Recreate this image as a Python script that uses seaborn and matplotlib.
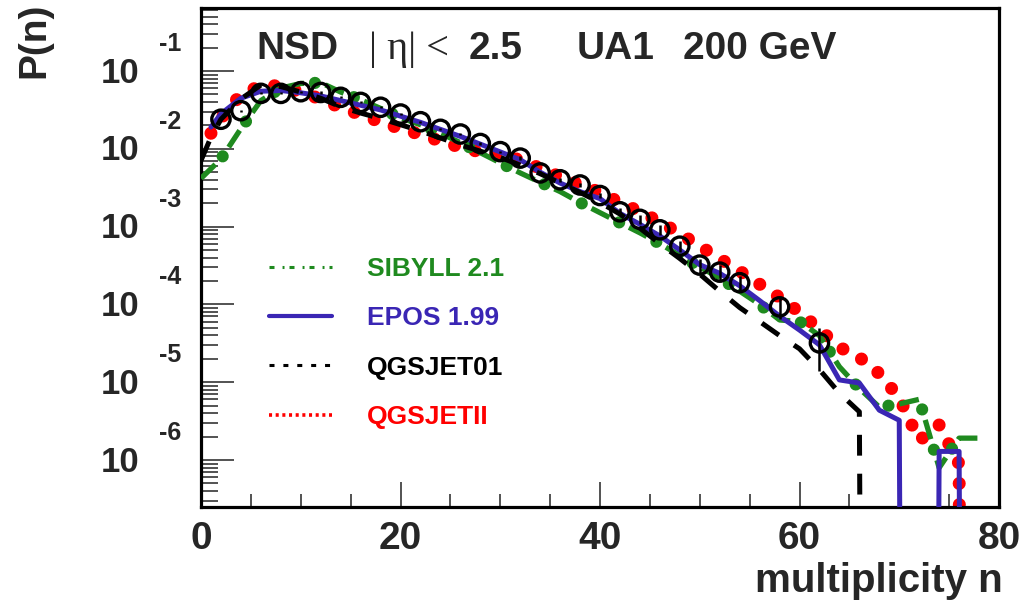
import numpy as np
import matplotlib
matplotlib.use("Agg")
import matplotlib.pyplot as plt
import matplotlib.transforms as mtrans
from matplotlib.lines import Line2D
from matplotlib.ticker import MultipleLocator, LogLocator, NullFormatter
import seaborn as sns

# ---------------- data ----------------
# UA1 NSD data, |eta| < 2.5, 200 GeV
ua1_n = [2, 4, 6, 8, 10, 12, 14, 16, 18, 20, 22, 24, 26, 28, 30, 32, 34, 36, 38,
         40, 42, 44, 46, 48, 50, 52, 54, 58, 62]
ua1_p = [2.40e-2, 3.09e-2, 5.16e-2, 5.16e-2, 5.42e-2, 5.30e-2, 4.59e-2, 3.95e-2,
         3.42e-2, 2.80e-2, 2.23e-2, 1.78e-2, 1.55e-2, 1.17e-2, 9.2e-3, 7.6e-3,
         4.9e-3, 4.0e-3, 3.43e-3, 2.51e-3, 1.55e-3, 1.24e-3, 9.1e-4, 5.6e-4,
         3.2e-4, 2.6e-4, 1.9e-4, 9.3e-5, 3.2e-5]
ua1_err = [7e-4, 9e-4, 1.5e-3, 1.5e-3, 1.6e-3, 1.6e-3, 1.4e-3, 1.2e-3, 1.0e-3,
           8e-4, 7e-4, 5e-4, 5e-4, 4e-4, 3e-4, 4e-4, 2.5e-4, 2e-4, 2e-4, 2e-4,
           1.6e-4, 1.5e-4, 1.3e-4, 9.5e-5, 6.4e-5, 5.7e-5, 4.2e-5, 2.8e-5, 1.8e-5]

# SIBYLL 2.1
sib_n = [0, 2, 4, 6, 8, 10, 12, 14, 16, 18, 20, 22, 24, 26, 28, 30, 32, 34, 36, 38,
         40, 42, 44, 46, 48, 50, 52, 54, 56, 58, 60, 62, 64, 66, 68, 70, 72, 74, 76, 78]
sib_p = [4.17e-3, 7.41e-3, 1.82e-2, 4.17e-2, 6.03e-2, 6.92e-2, 7.08e-2, 5.37e-2,
         4.27e-2, 3.31e-2, 2.51e-2, 2.04e-2, 1.585e-2, 1.20e-2, 8.91e-3, 6.61e-3,
         4.90e-3, 3.72e-3, 2.82e-3, 2.04e-3, 1.51e-3, 1.12e-3, 8.32e-4, 6.03e-4,
         4.27e-4, 3.02e-4, 2.19e-4, 1.48e-4, 1.00e-4, 6.31e-5, 6.03e-5, 3.98e-5,
         1.58e-5, 8.32e-6, 4.79e-6, 5.25e-6, 6.03e-6, 7.94e-7, 1.91e-6, 1.91e-6]

# EPOS 1.99
epos_n = [1, 2, 4, 6, 8, 10, 12, 14, 16, 18, 20, 22, 24, 26, 28, 30, 32, 34, 36, 38,
          40, 42, 44, 46, 48, 50, 52, 54, 56, 58, 60, 62, 64, 66, 68, 70, 71, 73, 74,
          76, 77]
epos_p = [1.905e-2, 2.818e-2, 4.467e-2, 5.495e-2, 5.623e-2, 5.248e-2, 4.786e-2,
          4.169e-2, 3.631e-2, 3.162e-2, 2.630e-2, 2.188e-2, 1.778e-2, 1.445e-2,
          1.148e-2, 9.12e-3, 7.24e-3, 5.01e-3, 3.63e-3, 2.82e-3, 2.29e-3, 1.48e-3,
          1.07e-3, 7.59e-4, 5.01e-4, 3.24e-4, 2.51e-4, 1.74e-4, 1.12e-4, 7.08e-5,
          4.68e-5, 3.02e-5, 1.07e-5, 9.77e-6, 4.37e-6, 3.24e-6, 0.0, 0.0, 1.29e-6,
          1.29e-6, 0.0]

# QGSJET01
qgs1_n = [0, 1, 2, 4, 6, 8, 10, 12, 14, 16, 18, 20, 22, 24, 26, 28, 30, 32, 34, 36,
          38, 40, 42, 44, 46, 48, 50, 52, 54, 56, 58, 60, 62, 64, 66, 67]
qgs1_p = [7.08e-3, 1.413e-2, 2.399e-2, 4.365e-2, 6.607e-2, 6.310e-2, 5.370e-2,
          4.467e-2, 3.467e-2, 2.884e-2, 2.455e-2, 2.042e-2, 1.698e-2, 1.380e-2,
          1.122e-2, 9.33e-3, 7.76e-3, 6.17e-3, 4.79e-3, 3.63e-3, 2.75e-3, 2.04e-3,
          1.45e-3, 9.55e-4, 6.03e-4, 3.89e-4, 2.45e-4, 1.48e-4, 9.12e-5, 6.03e-5,
          3.98e-5, 2.69e-5, 1.45e-5, 7.24e-6, 4.17e-6, 0.0]

# QGSJETII
qgs2_n = [1, 2, 4, 6, 8, 10, 12, 14, 16, 18, 20, 22, 24, 26, 28, 30, 32, 34, 36, 38,
          40, 42, 44, 46, 48, 50, 52, 54, 56, 58, 60, 62, 64, 66, 68, 70, 72, 74, 76, 77]
qgs2_p = [1.585e-2, 2.455e-2, 5.012e-2, 6.457e-2, 6.457e-2, 5.370e-2, 4.365e-2,
          3.388e-2, 2.754e-2, 2.213e-2, 1.820e-2, 1.531e-2, 1.259e-2, 1.047e-2,
          9.12e-3, 8.13e-3, 7.24e-3, 5.62e-3, 4.37e-3, 3.47e-3, 2.75e-3, 2.04e-3,
          1.55e-3, 1.15e-3, 8.13e-4, 5.62e-4, 3.89e-4, 2.69e-4, 1.82e-4, 1.23e-4,
          7.94e-5, 4.79e-5, 2.82e-5, 2.09e-5, 1.29e-5, 6.31e-6, 1.78e-6, 2.82e-6,
          8.91e-7, 0.0]

x_ticks = [0, 20, 40, 60, 80]
y_decades = [1e-1, 1e-2, 1e-3, 1e-4, 1e-5, 1e-6]
y_exponents = ["-1", "-2", "-3", "-4", "-5", "-6"]
legend_labels = ["SIBYLL 2.1", "EPOS 1.99", "QGSJET01", "QGSJETII"]

# ---------------- style ----------------
sns.set_style("white")
plt.rcParams["font.family"] = ["Liberation Sans", "DejaVu Sans"]
plt.rcParams["lines.scale_dashes"] = False

GREEN = "#1f8a1f"
BLUE = "#3a26b4"
BLACK = "#000000"
RED = "#ff0000"

W, H = 1020, 605
fig = plt.figure(figsize=(W / 100, H / 100), dpi=100)
fig.patch.set_facecolor("white")
L, R, T, B = 201, 999, 8, 507
ax = fig.add_axes([L / W, 1 - B / H, (R - L) / W, (B - T) / H])
ax.set_facecolor("white")
ax.set_yscale("log", nonpositive="clip")
ax.set_xlim(0, 80)
ax.set_ylim(10 ** -6.604, 10 ** -0.19)


def floor(v):
    v = np.asarray(v, dtype=float)
    return np.where(v > 0, v, 1e-30)


# QGSJETII: big red dots
sns.lineplot(x=qgs2_n, y=floor(qgs2_p), ax=ax, color=RED, linewidth=9.4,
             linestyle=(0, (0.01, 15.2)), dash_capstyle="round",
             estimator=None, sort=False, legend=False, zorder=2)
# SIBYLL: dash + big dot
sns.lineplot(x=sib_n, y=floor(sib_p), ax=ax, color=GREEN, linewidth=3.8,
             linestyle=(0, (14.4, 15.8)), dash_capstyle="butt",
             estimator=None, sort=False, legend=False, zorder=3)
sns.lineplot(x=sib_n, y=floor(sib_p), ax=ax, color=GREEN, linewidth=8.8,
             linestyle=(7.9, (0.01, 30.19)), dash_capstyle="round",
             estimator=None, sort=False, legend=False, zorder=3)
# EPOS: solid blue
sns.lineplot(x=epos_n, y=floor(epos_p), ax=ax, color=BLUE, linewidth=3.6,
             estimator=None, sort=False, legend=False, zorder=4)
# QGSJET01: black dashed
sns.lineplot(x=qgs1_n, y=floor(qgs1_p), ax=ax, color=BLACK, linewidth=3.6,
             linestyle=(0, (15.0, 13.0)), dash_capstyle="butt",
             estimator=None, sort=False, legend=False, zorder=5)

# UA1 data
ax.errorbar(ua1_n, ua1_p, yerr=ua1_err, fmt="none", ecolor="black",
            elinewidth=1.8, capsize=0, zorder=6)
sns.scatterplot(x=ua1_n, y=ua1_p, ax=ax, marker="o", s=13.2 ** 2,
                facecolor="none", edgecolor="black", linewidth=2.4,
                legend=False, zorder=7)

# ---------------- axes / ticks ----------------
for sp in ax.spines.values():
    sp.set_linewidth(2.3)
    sp.set_color("black")
    sp.set_visible(True)

ax.xaxis.set_major_locator(MultipleLocator(20))
ax.xaxis.set_minor_locator(MultipleLocator(5))
ax.set_xticks(x_ticks)
ax.yaxis.set_major_locator(LogLocator(base=10, numticks=20))
ax.yaxis.set_minor_locator(LogLocator(base=10, subs=np.arange(2, 10), numticks=50))
ax.yaxis.set_minor_formatter(NullFormatter())

ax.tick_params(axis="both", which="both", direction="in", top=False, right=False,
               bottom=True, left=True, color="#444444", width=1.3)
ax.tick_params(axis="x", which="major", length=18, labelsize=28, pad=10)
ax.tick_params(axis="x", which="minor", length=9.4)
ax.tick_params(axis="y", which="major", length=23.8, labelleft=False)
ax.tick_params(axis="y", which="minor", length=12.2)
for lab in ax.get_xticklabels():
    lab.set_fontweight("bold")

ax.set_xlabel("")
ax.set_ylabel("")

# ROOT-like y tick labels: "10" with raised exponent
ytrans = mtrans.blended_transform_factory(fig.transFigure, ax.transData)
for val, ex in zip(y_decades, y_exponents):
    ax.text(120 / W, val, "10", transform=mtrans.offset_copy(ytrans, fig, x=0, y=-2, units="dots"),
            ha="center", va="center", fontsize=25, fontweight="bold", clip_on=False)
    ax.text(159 / W, val, ex, transform=mtrans.offset_copy(ytrans, fig, x=0, y=27, units="dots"),
            ha="left", va="center", fontsize=18, fontweight="bold", clip_on=False)


def fpos(x, y):
    return x / W, 1 - y / H


# axis titles
fig.text(*fpos(34, 3), "P(n)", rotation=90, ha="center", va="top",
         fontsize=28, fontweight="bold")
fig.text(*fpos(1003, 592), "multiplicity n", ha="right", va="baseline",
         fontsize=29, fontweight="bold")

# header text
fig.text(*fpos(256, 59), "NSD", ha="left", va="baseline", fontsize=28, fontweight="bold")
fig.text(*fpos(369, 59), "| η| <", ha="left", va="baseline", fontsize=29,
         family=["Liberation Serif", "DejaVu Serif"])
fig.text(*fpos(469, 59), "2.5", ha="left", va="baseline", fontsize=28, fontweight="bold")
fig.text(*fpos(577, 59), "UA1", ha="left", va="baseline", fontsize=28, fontweight="bold")
fig.text(*fpos(683, 59), "200 GeV", ha="left", va="baseline", fontsize=28, fontweight="bold")

# legend
handles = [
    Line2D([], [], color=GREEN, linewidth=2.2, linestyle=(0, (3.6, 5.8, 1.4, 3.6))),
    Line2D([], [], color=BLUE, linewidth=3.0, linestyle="-"),
    Line2D([], [], color=BLACK, linewidth=2.2, linestyle=(0, (3.6, 6.4))),
    Line2D([], [], color=RED, linewidth=2.6, linestyle=(0, (2.2, 2.6))),
]
leg = ax.legend(handles, legend_labels, loc="upper left",
                bbox_to_anchor=fpos(269, 257), bbox_transform=fig.transFigure,
                frameon=False, borderpad=0, borderaxespad=0,
                handlelength=2.4, handletextpad=1.3, labelspacing=0.96,
                prop={"weight": "bold", "size": 19},
                labelcolor=[GREEN, BLUE, BLACK, RED])

fig.savefig("out.png", dpi=100, facecolor="white")
